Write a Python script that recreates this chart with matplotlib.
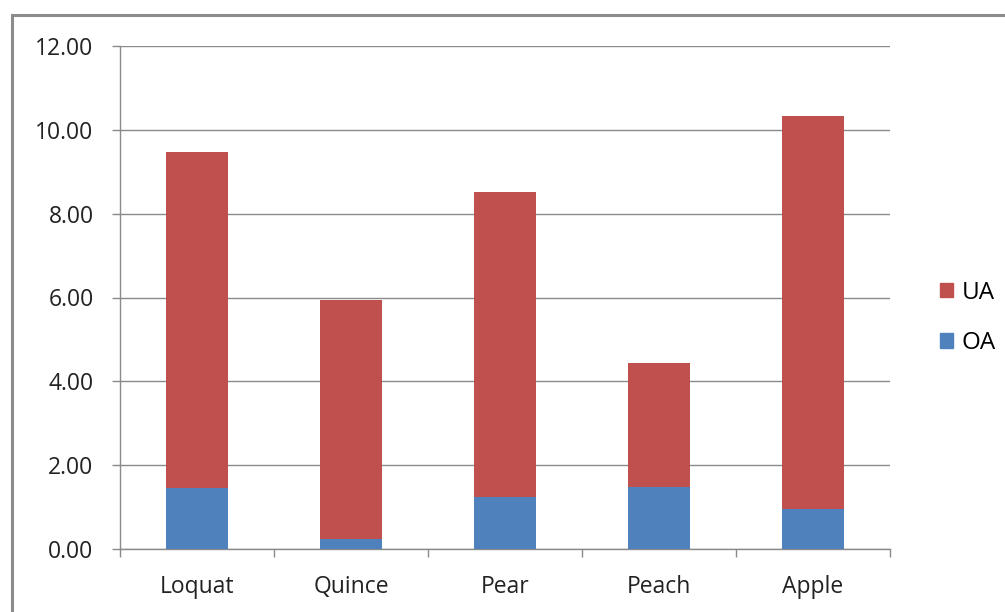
import matplotlib
matplotlib.use("Agg")
import matplotlib.pyplot as plt
from matplotlib.patches import Rectangle, Patch

categories = ["Loquat", "Quince", "Pear", "Peach", "Apple"]
oa_values = [1.45, 0.24, 1.24, 1.49, 0.95]
total_values = [9.47, 5.94, 8.52, 4.44, 10.33]
ua_values = [t - o for t, o in zip(total_values, oa_values)]
yticks = [0, 2, 4, 6, 8, 10, 12]

plt.rcParams['font.family'] = ['Open Sans', 'DejaVu Sans']

W, H = 1005, 612
fig = plt.figure(figsize=(W / 100, H / 100), dpi=100)
fig.patch.set_facecolor('white')

# outer chart border
fig.patches.append(Rectangle((12 / W, -0.01), 1.1, (H - 15) / H + 0.01,
                             transform=fig.transFigure, fill=False,
                             edgecolor='#8c8c8c', linewidth=2.2))

ax = fig.add_axes([120 / W, 1 - 549 / H, 770 / W, 503 / H])
x = list(range(len(categories)))
blue = '#4F81BD'
red = '#C0504D'
ax.bar(x, oa_values, width=0.4, color=blue, label='OA', zorder=3)
ax.bar(x, ua_values, bottom=oa_values, width=0.4, color=red, label='UA', zorder=3)

fs = 16.5
ax.set_xlim(-0.5, len(categories) - 0.5)
ax.set_ylim(0, 12)
ax.set_yticks(yticks)
ax.set_yticklabels([f"{v:.2f}" for v in yticks], fontsize=fs, color='#222222')
ax.yaxis.grid(True, color='#8a8a8a', linewidth=1.0, zorder=0)
ax.set_xticks(x)
ax.set_xticklabels(categories, fontsize=fs, color='#222222')
ax.tick_params(axis='x', length=0, pad=19)
ax.set_xticks([i - 0.5 for i in range(len(categories) + 1)], minor=True)
ax.tick_params(axis='x', which='minor', length=6, color='#8a8a8a', width=1)
ax.tick_params(axis='y', length=6, color='#8a8a8a', width=1, pad=13)
for s in ['top', 'right']:
    ax.spines[s].set_visible(False)
for s in ['left', 'bottom']:
    ax.spines[s].set_color('#8a8a8a')
    ax.spines[s].set_linewidth(1.0)

handles = [Patch(color=red, label='UA'), Patch(color=blue, label='OA')]
fig.legend(handles=handles, loc='center left', bbox_to_anchor=(918 / W, 1 - 318 / H),
           frameon=False, fontsize=17.5, handlelength=0.55, handleheight=0.55,
           handletextpad=0.35, labelspacing=1.1)

fig.savefig("out.png", dpi=100, facecolor='white')
